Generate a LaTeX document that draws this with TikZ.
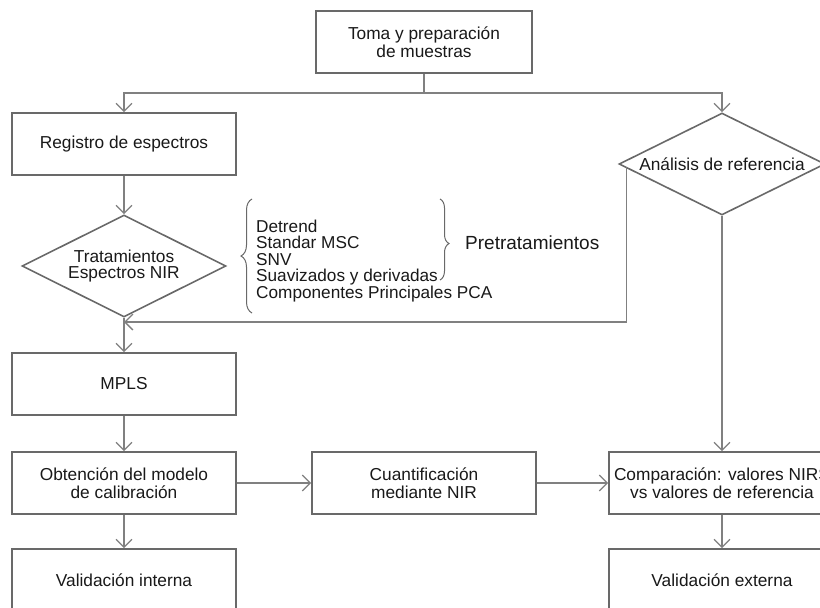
\documentclass[tikz,border=0pt]{standalone}
\usepackage{fontspec}
\setmainfont{Liberation Sans}
\usetikzlibrary{shapes.geometric,arrows.meta,decorations.pathreplacing}
\definecolor{linegray}{RGB}{128,128,128}
\definecolor{boxgray}{RGB}{105,105,105}
\definecolor{textblack}{RGB}{25,25,25}
\tikzstyle{process}=[draw=boxgray, line width=1.6pt, minimum width=224pt, minimum height=62pt, inner sep=0pt, align=center, text=textblack, font=\fontsize{17.3}{18}\selectfont]
\tikzstyle{decision}=[diamond, aspect=2, draw=boxgray, line width=1.6pt, minimum width=204pt, minimum height=102pt, inner sep=0pt, align=center, text=textblack, font=\fontsize{17.3}{16}\selectfont]
\tikzstyle{flow}=[draw=linegray, line width=1.3pt, -{Straight Barb[length=8pt,width=16pt]}]
\tikzstyle{plain flow}=[draw=linegray, line width=1.3pt]
\tikzstyle{curly}=[draw=boxgray, line width=1pt, decorate]

\begin{document}
\begin{tikzpicture}[x=1pt, y=-1pt]
\clip (0,0) rectangle (820,608);
\fill[white] (0,0) rectangle (820,608);

\node[process, minimum width=216pt] (toma) at (424, 42) {Toma y preparación\\de muestras};
\node[process] (reg)  at (124, 144) {Registro de espectros};
\node[decision] (trat) at (124, 266) {Tratamientos\\Espectros NIR};
\node[decision, minimum width=206pt] (anal) at (722, 164) {Análisis de referencia};
\node[process] (mpls) at (124, 384) {MPLS};
\node[process] (obt)  at (124, 483) {Obtención del modelo\\de calibración};
\node[process] (cuan) at (424, 483) {Cuantificación\\mediante NIR};
\node[process, minimum width=226pt] (comp) at (722, 483) {Comparación: valores NIRS\\vs valores de referencia};
\node[process] (vint) at (124, 580) {Validación interna};
\node[process, minimum width=226pt] (vext) at (722, 580) {Validación externa};

\node[anchor=west, align=left, inner sep=0pt, text=textblack, font=\fontsize{17.2}{16.5}\selectfont] (lista) at (256, 261)
  {Detrend\\Standar MSC\\SNV\\Suavizados y derivadas\\Componentes Principales PCA};
\node[anchor=west, inner sep=0pt, text=textblack, font=\fontsize{19}{20}\selectfont] (pret) at (465, 243) {Pretratamientos};

\coordinate (split) at (424, 93);
\coordinate (back) at (124, 322);

\draw[plain flow] (toma.south) -- (split);
\draw[flow] (split) -| (reg.north);
\draw[flow] (split) -| (anal.north);
\draw[flow] (reg) -- (trat);
\draw[flow] (trat) -- (mpls);
\draw[flow] ([xshift=8pt, yshift=-3pt]anal.west) |- (back);
\draw[flow] (mpls) -- (obt);
\draw[flow] (obt) -- (cuan);
\draw[flow] (cuan) -- (comp);
\draw[flow] (anal) -- (comp);
\draw[flow] (obt) -- (vint);
\draw[flow] (comp) -- (vext);

\draw[curly, decoration={brace, amplitude=11pt}] (252, 313) -- (252, 199);
\draw[curly, decoration={brace, amplitude=9pt, aspect=0.55}] (440, 199) -- (440, 280);
\end{tikzpicture}
\end{document}
